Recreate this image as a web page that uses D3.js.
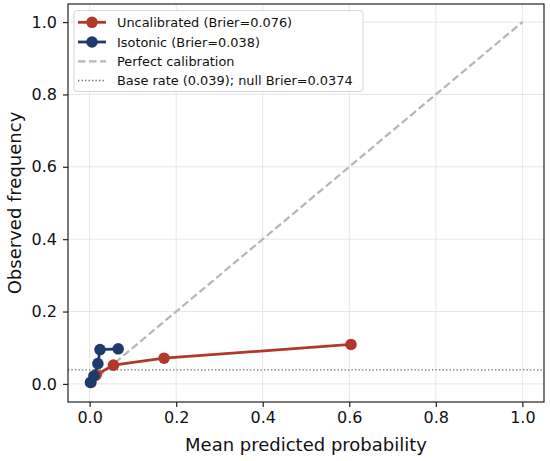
<!DOCTYPE html>
<html><head><meta charset="utf-8">
<script src="https://cdn.jsdelivr.net/npm/d3@7"></script>
<style>body{margin:0;background:#fff;} svg{display:block;font-family:"DejaVu Sans",sans-serif;}</style>
</head><body>
<svg id="c" width="550" height="461"></svg>
<script>
const uncalX = [0.003, 0.015, 0.055, 0.172, 0.604];
const uncalY = [0.004, 0.025, 0.052, 0.071, 0.109];
const isoX = [0.002, 0.010, 0.019, 0.024, 0.066];
const isoY = [0.004, 0.022, 0.056, 0.095, 0.097];
const baseRate = 0.039;
const ticks = [0, 0.2, 0.4, 0.6, 0.8, 1.0];
const legendLabels = ["Uncalibrated (Brier=0.076)", "Isotonic (Brier=0.038)", "Perfect calibration", "Base rate (0.039); null Brier=0.0374"];
const red = "#b3382c", blue = "#1f3a6c";

const svg = d3.select("#c");
const L = 68, R = 544, T = 4, B = 402;
const x = d3.scaleLinear().domain([-0.05, 1.05]).range([L, R]);
const y = d3.scaleLinear().domain([-0.05, 1.05]).range([B, T]);

// grid
const g = svg.append("g");
g.selectAll(".gx").data(ticks).join("line").attr("x1", d => x(d)).attr("x2", d => x(d)).attr("y1", T).attr("y2", B).attr("stroke", "#e6e6e6").attr("stroke-width", 1);
g.selectAll(".gy").data(ticks).join("line").attr("y1", d => y(d)).attr("y2", d => y(d)).attr("x1", L).attr("x2", R).attr("stroke", "#e6e6e6").attr("stroke-width", 1);

// perfect calibration
svg.append("line").attr("x1", x(0)).attr("y1", y(0)).attr("x2", x(1)).attr("y2", y(1))
  .attr("stroke", "#b5b5b5").attr("stroke-width", 2.2).attr("stroke-dasharray", "7.5,3.5");
// base rate
svg.append("line").attr("x1", L).attr("x2", R).attr("y1", y(baseRate)).attr("y2", y(baseRate))
  .attr("stroke", "#666").attr("stroke-width", 1.3).attr("stroke-dasharray", "1.3,2.2");

function series(xs, ys, col) {
  const pts = xs.map((v, i) => [v, ys[i]]);
  svg.append("path").datum(pts).attr("fill", "none").attr("stroke", col).attr("stroke-width", 2.8)
    .attr("d", d3.line().x(d => x(d[0])).y(d => y(d[1])));
  svg.append("g").selectAll("circle").data(pts).join("circle")
    .attr("cx", d => x(d[0])).attr("cy", d => y(d[1])).attr("r", 5.8).attr("fill", col);
}
series(uncalX, uncalY, red);
series(isoX, isoY, blue);

// axes frame
svg.append("rect").attr("x", L).attr("y", T).attr("width", R - L).attr("height", B - T)
  .attr("fill", "none").attr("stroke", "#222").attr("stroke-width", 1.2);

const xa = svg.append("g").attr("transform", `translate(0,${B})`)
  .call(d3.axisBottom(x).tickValues(ticks).tickFormat(d3.format(".1f")).tickSize(5).tickPadding(5));
const ya = svg.append("g").attr("transform", `translate(${L},0)`)
  .call(d3.axisLeft(y).tickValues(ticks).tickFormat(d3.format(".1f")).tickSize(5).tickPadding(6));
[xa, ya].forEach(a => {
  a.select(".domain").remove();
  a.selectAll(".tick line").attr("stroke", "#222").attr("stroke-width", 1.2);
  a.selectAll(".tick text").attr("font-size", 16).attr("fill", "#111").attr("font-family", "DejaVu Sans");
});

svg.append("text").attr("x", (L + R) / 2).attr("y", 451).attr("text-anchor", "middle")
  .attr("font-size", 18).attr("fill", "#111").text("Mean predicted probability");
svg.append("text").attr("transform", `translate(21,${(T + B) / 2}) rotate(-90)`).attr("text-anchor", "middle")
  .attr("font-size", 18).attr("fill", "#111").text("Observed frequency");

// legend
const lg = svg.append("g");
lg.append("rect").attr("x", 74).attr("y", 10.5).attr("width", 289).attr("height", 81).attr("rx", 3)
  .attr("fill", "#fff").attr("fill-opacity", 0.85).attr("stroke", "#d5d5d5");
const rowY = [22.3, 42, 61.3, 80.5];
legendLabels.forEach((t, i) => {
  const yy = rowY[i];
  if (i < 2) {
    const col = i === 0 ? red : blue;
    lg.append("line").attr("x1", 78).attr("x2", 106).attr("y1", yy).attr("y2", yy).attr("stroke", col).attr("stroke-width", 2.8);
    lg.append("circle").attr("cx", 92).attr("cy", yy).attr("r", 5.8).attr("fill", col);
  } else if (i === 2) {
    lg.append("line").attr("x1", 78).attr("x2", 106).attr("y1", yy).attr("y2", yy).attr("stroke", "#b5b5b5").attr("stroke-width", 2.2).attr("stroke-dasharray", "7.5,3.5");
  } else {
    lg.append("line").attr("x1", 78).attr("x2", 106).attr("y1", yy).attr("y2", yy).attr("stroke", "#666").attr("stroke-width", 1.3).attr("stroke-dasharray", "1.3,2.2");
  }
  lg.append("text").attr("x", 117).attr("y", yy).attr("dy", "0.35em").attr("font-size", 12.9).attr("fill", "#111").text(t);
});
</script>
</body></html>
